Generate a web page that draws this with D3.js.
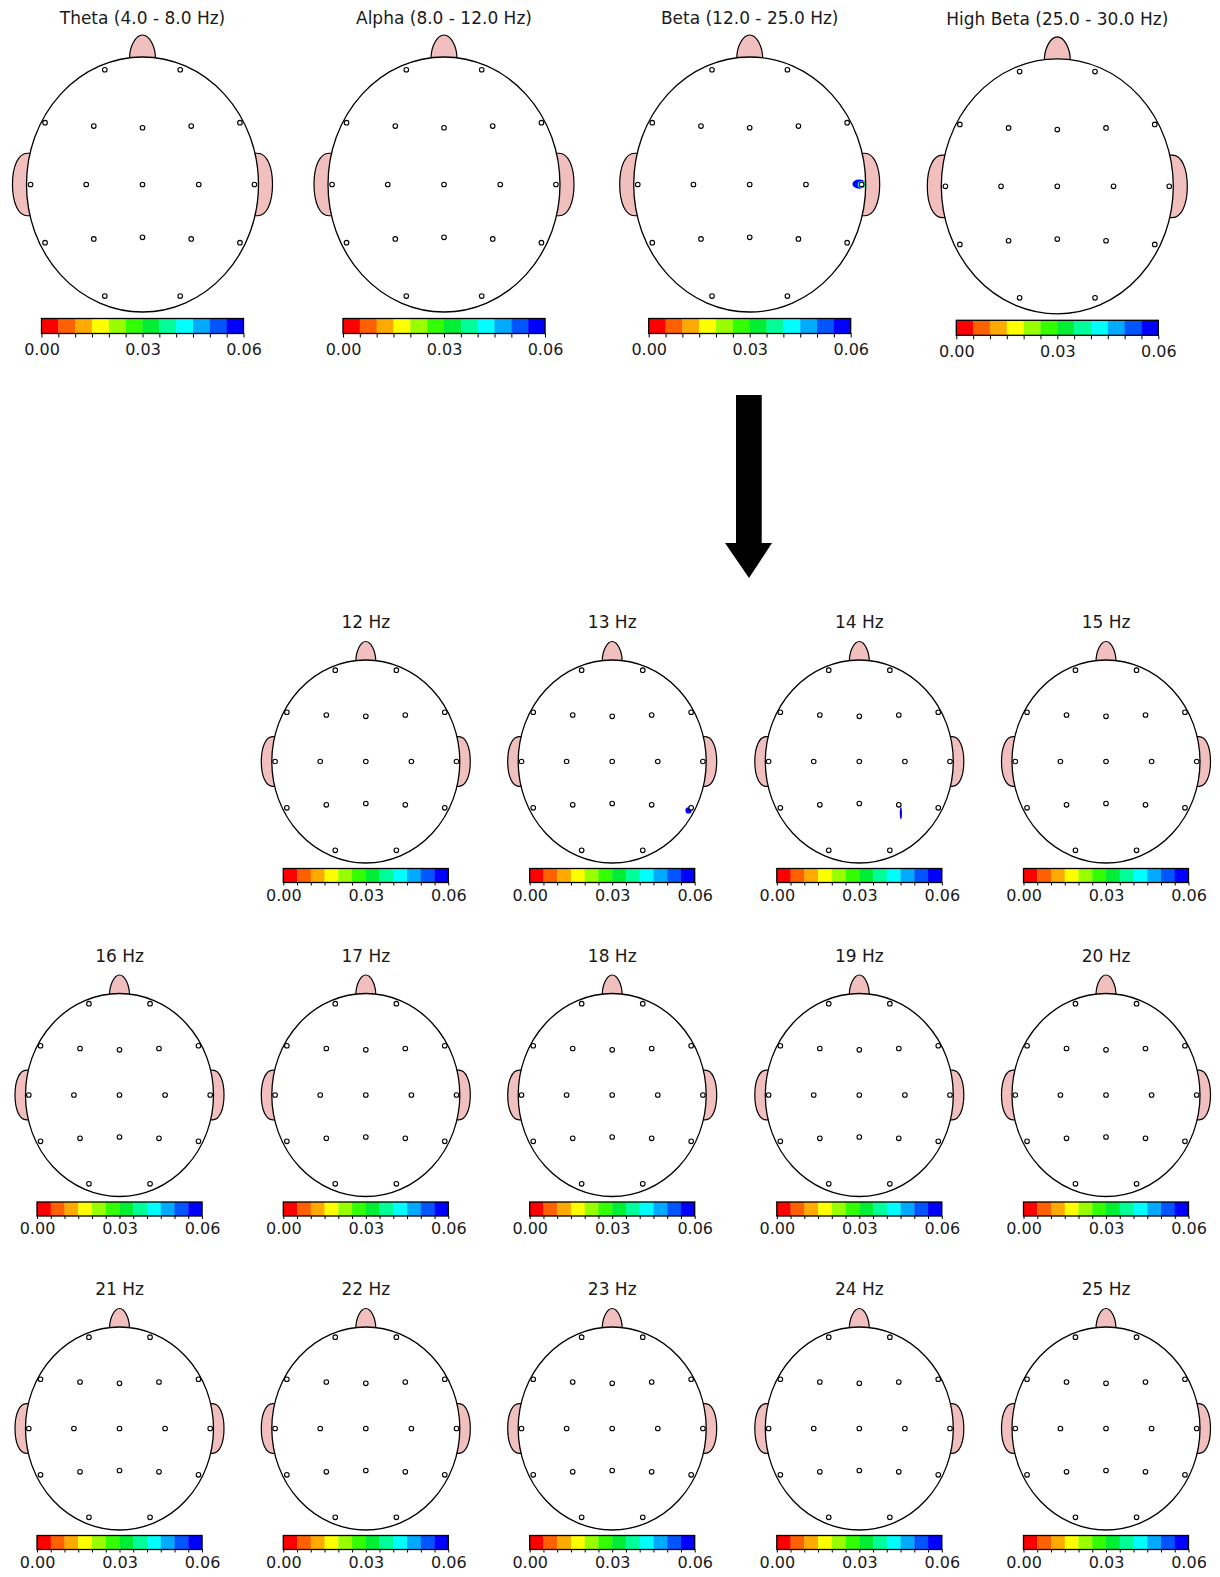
<!DOCTYPE html>
<html>
<head>
<meta charset="utf-8">
<script src="https://cdn.jsdelivr.net/npm/d3@7"></script>
<style>
  body { margin: 0; background: #fff; }
  svg { display: block; }
</style>
</head>
<body>
<div id="chart"></div>
<script>
// band maps (top row) and 1 Hz bins of the beta band (grid below the arrow)
const bandTitles = ["Theta (4.0 - 8.0 Hz)", "Alpha (8.0 - 12.0 Hz)", "Beta (12.0 - 25.0 Hz)", "High Beta (25.0 - 30.0 Hz)"];
const binTitles = ["12 Hz", "13 Hz", "14 Hz", "15 Hz", "16 Hz", "17 Hz", "18 Hz", "19 Hz", "20 Hz",
                   "21 Hz", "22 Hz", "23 Hz", "24 Hz", "25 Hz"];

// colour scale: 12 steps from 0.00 to 0.06
const levels = [0, 0.005, 0.01, 0.015, 0.02, 0.025, 0.03, 0.035, 0.04, 0.045, 0.05, 0.055, 0.06];
const levelColors = ["#ff0000", "#ff6000", "#ffaa00", "#ffff00", "#99ff00", "#33ff00",
                     "#00ee33", "#00ff99", "#00ffff", "#00aaff", "#0055ff", "#0000ff"];
const tickLabels = [0, 0.03, 0.06];

// 10-20 montage, x in head half-widths, y in head half-heights (down is +)
const electrodes = ["Fp1", "Fp2", "F7", "F3", "Fz", "F4", "F8", "T3", "C3", "Cz", "C4", "T4",
                    "T5", "P3", "Pz", "P4", "T6", "O1", "O2"];
const electrodeX = [-0.325, 0.325, -0.84, -0.42, 0, 0.42, 0.84, -0.965, -0.485, 0, 0.485, 0.965,
                    -0.84, -0.42, 0, 0.42, 0.84, -0.325, 0.325];
const electrodeY = [-0.9, -0.9, -0.485, -0.458, -0.445, -0.458, -0.485, 0, 0, 0, 0, 0,
                    0.456, 0.427, 0.414, 0.427, 0.456, 0.875, 0.875];

// the few spots above threshold (contour levels, outermost first)
const hotspotMaps = ["Beta (12.0 - 25.0 Hz)", "13 Hz", "14 Hz"];
const hotspotElectrodes = ["T4", "T6", "P4"];
const hotspotLevels = [[0.06, 0.055, 0.045, 0.035], [0.06, 0.055], [0.06]];

const width = 1220, height = 1577;
const svg = d3.select("#chart").append("svg")
    .attr("width", width)
    .attr("height", height)
    .attr("viewBox", [0, 0, width, height]);

const font = "'DejaVu Sans', Verdana, sans-serif";
const pink = "#f2bfbf";

// ring geometry of each spot, px relative to its electrode
const spotRings = {
  "Beta (12.0 - 25.0 Hz)": [[-2.4, -0.4, 6.8, 4.6], [-1.4, -0.2, 5.4, 3.8], [0, 0, 4, 3.3], [2.2, 0, 2.6, 3]],
  "13 Hz": [[-2.6, 2.6, 3.1, 3.2], [-2.8, 3, 1.8, 1.8]],
  "14 Hz": [[2.1, 8.4, 1.1, 6.2]]
};

let clipId = 0;

function drawMap(title, o) {
  const g = svg.append("g");
  const {cx, cy, rx, ry} = o;

  g.append("text")
      .attr("x", cx)
      .attr("y", cy + o.titleDy)
      .attr("text-anchor", "middle")
      .attr("font-family", font)
      .attr("font-size", 17)
      .attr("fill", "#1a1a1a")
      .text(title);

  // nose
  const top = cy - ry + 2, w = o.noseW, h = o.noseH + 2;
  g.append("path")
      .attr("d", `M${cx - w},${top} C${cx - w},${top - h * 0.55} ${cx - w * 0.5},${top - h} ${cx},${top - h}
                  C${cx + w * 0.5},${top - h} ${cx + w},${top - h * 0.55} ${cx + w},${top} Z`)
      .attr("fill", pink)
      .attr("stroke", "#000")
      .attr("stroke-width", 1.2);

  // ears
  [-1, 1].forEach(s => {
    const eh = 0.245 * ry, e = o.earW;
    const xe = cx + s * (rx - 1), xi = cx + s * (rx - 5);
    g.append("path")
        .attr("d", `M${xi},${cy - eh} L${xe},${cy - eh}
                    C${xe + s * e * 0.6},${cy - eh} ${xe + s * e},${cy - eh * 0.6} ${xe + s * e},${cy}
                    C${xe + s * e},${cy + eh * 0.6} ${xe + s * e * 0.6},${cy + eh} ${xe},${cy + eh}
                    L${xi},${cy + eh} Z`)
        .attr("fill", pink)
        .attr("stroke", "#000")
        .attr("stroke-width", 1.2);
  });

  g.append("ellipse")
      .attr("cx", cx).attr("cy", cy).attr("rx", rx).attr("ry", ry)
      .attr("fill", "#fff");

  // spots above threshold, clipped to the scalp
  const k = hotspotMaps.indexOf(title);
  if (k >= 0) {
    const id = "clip" + (clipId++);
    g.append("clipPath").attr("id", id)
      .append("ellipse")
        .attr("cx", cx).attr("cy", cy).attr("rx", rx).attr("ry", ry);
    const e = electrodes.indexOf(hotspotElectrodes[k]);
    const ex = cx + electrodeX[e] * rx, ey = cy + electrodeY[e] * ry;
    const colorOf = d3.scaleQuantize().domain([0, 0.06]).range(levelColors);
    g.append("g").attr("clip-path", `url(#${id})`)
      .selectAll("ellipse")
      .data(hotspotLevels[k])
      .join("ellipse")
        .attr("cx", (d, i) => ex + spotRings[title][i][0])
        .attr("cy", (d, i) => ey + spotRings[title][i][1])
        .attr("rx", (d, i) => spotRings[title][i][2])
        .attr("ry", (d, i) => spotRings[title][i][3])
        .attr("fill", d => colorOf(Math.min(d, 0.0599)));
  }

  g.append("ellipse")
      .attr("cx", cx).attr("cy", cy).attr("rx", rx).attr("ry", ry)
      .attr("fill", "none")
      .attr("stroke", "#000")
      .attr("stroke-width", 1.3);

  g.selectAll("circle.el")
    .data(electrodes)
    .join("circle")
      .attr("class", "el")
      .attr("cx", (d, i) => cx + electrodeX[i] * rx)
      .attr("cy", (d, i) => cy + electrodeY[i] * ry)
      .attr("r", 2.3)
      .attr("fill", "#fff")
      .attr("stroke", "#000")
      .attr("stroke-width", 1.1);

  // colour bar
  const x = d3.scaleLinear()
      .domain([levels[0], levels[levels.length - 1]])
      .range([cx - o.barW / 2, cx + o.barW / 2]);
  const by = cy + o.barDy;
  g.selectAll("rect.cell")
    .data(levelColors)
    .join("rect")
      .attr("class", "cell")
      .attr("x", (d, i) => x(levels[i]))
      .attr("y", by)
      .attr("width", (d, i) => x(levels[i + 1]) - x(levels[i]) + 0.3)
      .attr("height", o.barH)
      .attr("fill", d => d);
  g.append("rect")
      .attr("x", x.range()[0]).attr("y", by)
      .attr("width", o.barW).attr("height", o.barH)
      .attr("fill", "none")
      .attr("stroke", "#000")
      .attr("stroke-width", 1.3);

  const axis = d3.axisBottom(x)
      .tickValues(levels)
      .tickSize(o.tickSize)
      .tickPadding(o.tickPad)
      .tickFormat(d => tickLabels.includes(d) ? d3.format(".2f")(d) : "");
  const ax = g.append("g")
      .attr("transform", `translate(0,${by + o.barH})`)
      .call(axis);
  ax.select(".domain").remove();
  ax.selectAll("line").attr("stroke", "#000");
  ax.selectAll("text")
      .attr("font-family", font)
      .attr("font-size", 16)
      .attr("fill", "#1a1a1a");
}

// top row
const big = {rx: 116, ry: 127.5, noseW: 13, noseH: 22, earW: 15, titleDy: -161,
             barW: 202, barH: 15, barDy: 134, tickSize: 4, tickPad: 6};
const bandX = [142.5, 444, 749.7, 1057.3];
const bandY = [184.5, 184.5, 184.5, 186.3];
bandTitles.forEach((t, i) => drawMap(t, {...big, cx: bandX[i], cy: bandY[i]}));

// arrow
svg.append("path")
    .attr("d", "M736,395 L761.7,395 L761.7,543 L772,543 L749,578 L725,543 L736,543 Z")
    .attr("fill", "#000");

// 1 Hz bins, five per row, first slot empty
const small = {rx: 94, ry: 101.5, noseW: 10, noseH: 18.5, earW: 11.5, titleDy: -133.5,
               barW: 165, barH: 14, barDy: 107, tickSize: 3, tickPad: 4};
const colX = [119.5, 365.8, 612.2, 859.3, 1106];
const rowY = [761.5, 1095, 1428.5];
binTitles.forEach((t, i) => {
  const slot = i + 1;
  drawMap(t, {...small, cx: colX[slot % 5], cy: rowY[Math.floor(slot / 5)]});
});
</script>
</body>
</html>
